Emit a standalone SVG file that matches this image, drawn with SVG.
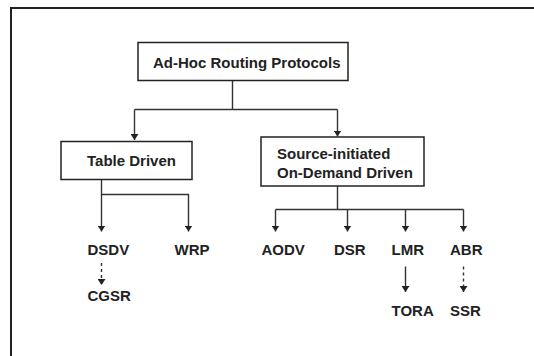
<svg xmlns="http://www.w3.org/2000/svg" width="534" height="356" viewBox="0 0 534 356">
<style>
.box{fill:#fff;stroke:#222;stroke-width:1.5}
.t{font-family:"Liberation Sans",Arial,sans-serif;font-weight:bold;font-size:15px;fill:#222}
.c{fill:none;stroke:#333;stroke-width:1.4}
.d{stroke-dasharray:3 3}
</style>
<defs>
<marker id="ah" viewBox="0 0 6 8" refX="6" refY="4" markerWidth="6" markerHeight="8" markerUnits="userSpaceOnUse" orient="auto">
<path d="M0,0 L6,4 L0,8 Z" fill="#222"/>
</marker>
</defs>
<rect width="534" height="356" fill="#fff"/>
<path d="M11,356 V8 H534" fill="none" stroke="#222" stroke-width="2"/>
<g id="connectors">
<path class="c" d="M232.5,81 V109.5 M134.5,109.5 H337.5"/>
<path class="c" d="M134.5,109.5 V140" marker-end="url(#ah)"/>
<path class="c" d="M337.5,109.5 V136.5" marker-end="url(#ah)"/>
<path class="c" d="M101.5,179 V231.5" marker-end="url(#ah)"/>
<path class="c" d="M101.5,194.5 H188.5 V231.5" marker-end="url(#ah)"/>
<path class="c" d="M337.5,186 V209.5 M275.5,209.5 H463.5"/>
<path class="c" d="M275.5,209.5 V231.5" marker-end="url(#ah)"/>
<path class="c" d="M347.5,209.5 V231.5" marker-end="url(#ah)"/>
<path class="c" d="M405.5,209.5 V231.5" marker-end="url(#ah)"/>
<path class="c" d="M463.5,209.5 V231.5" marker-end="url(#ah)"/>
<path class="c d" d="M101.5,263 V285" marker-end="url(#ah)"/>
<path class="c" d="M405.5,266.5 V292" marker-end="url(#ah)"/>
<path class="c d" d="M463.5,266.5 V292" marker-end="url(#ah)"/>
</g>
<g id="root"><rect class="box" x="138" y="42.5" width="210" height="38"/><text class="t" x="153" y="68">Ad-Hoc Routing Protocols</text></g>
<g id="table"><rect class="box" x="61" y="141.5" width="131" height="38"/><text class="t" x="87" y="165.5">Table Driven</text></g>
<g id="source"><rect class="box" x="261" y="137" width="163" height="49"/><text class="t" x="277" y="159">Source-initiated</text><text class="t" x="277" y="178">On-Demand Driven</text></g>
<g id="dsdv"><text class="t" x="87.5" y="255">DSDV</text></g>
<g id="wrp"><text class="t" x="174.5" y="255">WRP</text></g>
<g id="aodv"><text class="t" x="261.5" y="255">AODV</text></g>
<g id="dsr"><text class="t" x="334" y="255">DSR</text></g>
<g id="lmr"><text class="t" x="391.5" y="255">LMR</text></g>
<g id="abr"><text class="t" x="450" y="255">ABR</text></g>
<g id="cgsr"><text class="t" x="87.5" y="300.5">CGSR</text></g>
<g id="tora"><text class="t" x="391.5" y="316">TORA</text></g>
<g id="ssr"><text class="t" x="450" y="316">SSR</text></g>
</svg>
